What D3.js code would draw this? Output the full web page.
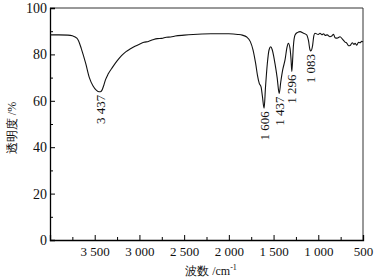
<!DOCTYPE html>
<html>
<head>
<meta charset="utf-8">
<script src="https://cdn.jsdelivr.net/npm/d3@7"></script>
<style>
  body { margin: 0; background: #fff; }
  svg text { font-family: "Liberation Serif", "DejaVu Serif", serif; fill: #111; }
</style>
</head>
<body>
<div id="chart"></div>
<script>
// wavenumber (cm-1) and transmittance (%)
const wavenumber = [4000, 3900, 3800, 3750, 3700, 3680, 3650, 3600, 3560, 3520, 3480, 3450, 3437, 3420, 3400, 3380, 3350, 3300, 3250, 3200,
    3150, 3100, 3050, 3000, 2950, 2900, 2850, 2800, 2750, 2700, 2650, 2600, 2500, 2400, 2300, 2200, 2100, 2000, 1950, 1900,
    1850, 1800, 1760, 1730, 1700, 1680, 1660, 1640, 1625, 1606, 1590, 1570, 1550, 1532, 1515, 1500, 1484, 1460, 1437, 1420,
    1398, 1372, 1350, 1335, 1316, 1305, 1296, 1285, 1279, 1260, 1230, 1204, 1170, 1130, 1110, 1093, 1083, 1063, 1050, 1037,
    1000, 981, 960, 940, 925, 900, 869, 850, 830, 813, 790, 757, 730, 701, 680, 660, 645, 620, 600, 589,
    570, 550, 533, 515, 500];
const transmittance = [88.4, 88.4, 88.3, 88.0, 87.0, 85.8, 82.5, 76.0, 70.0, 66.5, 64.5, 63.9, 63.9, 64.5, 66.5, 69.0, 71.5, 74.5, 77.2, 79.5,
    81.2, 82.4, 83.5, 84.4, 85.2, 85.6, 86.3, 86.8, 86.9, 87.4, 87.5, 87.9, 88.3, 88.6, 88.8, 88.9, 88.9, 88.9, 88.8, 88.6,
    88.3, 87.5, 85.5, 82.0, 76.0, 71.0, 67.5, 66.0, 62.0, 56.8, 66.0, 76.0, 82.0, 83.3, 82.0, 79.5, 76.0, 70.0, 63.2, 68.0,
    73.3, 77.6, 83.0, 84.8, 82.6, 78.0, 72.6, 79.0, 83.3, 88.4, 89.5, 89.8, 89.2, 88.4, 86.0, 82.0, 81.5, 84.0, 88.0, 89.1,
    88.6, 89.1, 88.5, 88.9, 88.2, 88.4, 87.6, 87.9, 88.7, 87.2, 87.0, 87.6, 86.6, 85.3, 84.8, 83.7, 83.8, 85.0, 84.3, 84.8,
    84.0, 85.2, 85.0, 85.6, 85.4];

const peakLabels = ["3 437", "1 606", "1 437", "1 296", "1 083"];
const peakWavenumber = [3437, 1606, 1437, 1296, 1083];
const peakValue = [63.9, 56.8, 63.2, 72.6, 81.5];

const xTicks = [3500, 3000, 2500, 2000, 1500, 1000, 500];
const xTickLabels = ["3 500", "3 000", "2 500", "2 000", "1 500", "1 000", "500"];
const yTicks = [0, 20, 40, 60, 80, 100];

const width = 374, height = 280;
const margin = {top: 8, right: 11, bottom: 40, left: 50};

const svg = d3.select("#chart").append("svg")
    .attr("width", width)
    .attr("height", height);

const x = d3.scaleLinear().domain([4000, 500]).range([margin.left, width - margin.right]);
const y = d3.scaleLinear().domain([0, 100]).range([height - margin.bottom, margin.top]);

// frame top / right
svg.append("path")
    .attr("d", "M" + x(4000) + "," + y(100) + "H" + x(500) + "V" + y(0))
    .attr("fill", "none")
    .attr("stroke", "#333")
    .attr("stroke-width", 1);

// minor ticks
svg.append("g")
    .attr("transform", "translate(0," + y(0) + ")")
    .call(d3.axisTop(x).tickValues(d3.range(3750, 500, -500)).tickSize(3).tickFormat(""))
    .call(g => g.select(".domain").remove());
svg.append("g")
    .attr("transform", "translate(" + x(4000) + ",0)")
    .call(d3.axisRight(y).tickValues(d3.range(10, 100, 20)).tickSize(3).tickFormat(""))
    .call(g => g.select(".domain").remove());

// x axis, ticks inward
const xAxis = svg.append("g")
    .attr("transform", "translate(0," + y(0) + ")")
    .call(d3.axisTop(x).tickValues(xTicks).tickSize(5).tickFormat((d, i) => xTickLabels[i]));
xAxis.selectAll("text")
    .attr("y", 16)
    .attr("dy", "0")
    .style("font-size", "13px");
xAxis.select(".domain").attr("stroke-width", 1.3);

// y axis, ticks inward
const yAxis = svg.append("g")
    .attr("transform", "translate(" + x(4000) + ",0)")
    .call(d3.axisRight(y).tickValues(yTicks).tickSize(5));
yAxis.selectAll("text")
    .attr("x", -3)
    .attr("text-anchor", "end")
    .style("font-size", "14px");
yAxis.select(".domain").attr("stroke-width", 1.3);

// spectrum
const pts = wavenumber.map((w, i) => [w, transmittance[i]]);
svg.append("path")
    .datum(pts)
    .attr("fill", "none")
    .attr("stroke", "#111")
    .attr("stroke-width", 1.1)
    .attr("d", d3.line().x(d => x(d[0])).y(d => y(d[1])).curve(d3.curveMonotoneX));

// peak labels
svg.selectAll(".peak")
    .data(peakLabels)
    .enter()
    .append("text")
    .attr("class", "peak")
    .attr("transform", (d, i) => "translate(" + x(peakWavenumber[i]) + "," + (y(peakValue[i]) + 3) + ") rotate(-90)")
    .attr("text-anchor", "end")
    .attr("dy", "0.35em")
    .style("font-size", "13px")
    .text(d => d);

// axis titles
svg.append("text")
    .attr("transform", "translate(12," + 128 + ") rotate(-90)")
    .attr("text-anchor", "middle")
    .attr("dy", "0.35em")
    .style("font-size", "12px")
    .text("透明度 /%");

svg.append("text")
    .attr("x", 211)
    .attr("y", 275)
    .attr("text-anchor", "middle")
    .style("font-size", "12px")
    .text("波数 /cm")
    .append("tspan")
    .attr("dy", "-5")
    .style("font-size", "8px")
    .text("-1");
</script>
</body>
</html>
